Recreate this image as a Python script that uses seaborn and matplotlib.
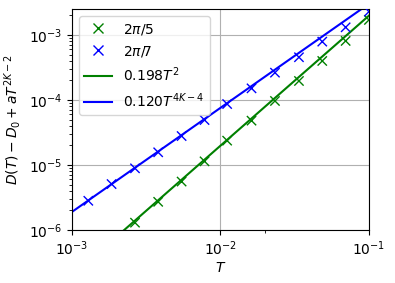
import numpy as np
import pandas as pd
import matplotlib
matplotlib.use("Agg")
import matplotlib.pyplot as plt
from matplotlib.ticker import FixedLocator, NullFormatter
import seaborn as sns

# --- data ---
T_VALUES = [0.00129, 0.00185, 0.00266, 0.00381, 0.00548, 0.00782, 0.0111,
            0.0162, 0.0233, 0.0338, 0.0485, 0.0697, 0.100]
D_2PI5 = [3.8e-7, 7.7e-7, 1.30e-6, 2.72e-6, 5.57e-6, 1.14e-5, 2.37e-5,
          4.81e-5, 9.66e-5, 1.96e-4, 3.98e-4, 8.09e-4, 1.70e-3]
D_2PI7 = [2.82e-6, 5.10e-6, 8.90e-6, 1.57e-5, 2.79e-5, 4.92e-5, 8.67e-5,
          1.51e-4, 2.63e-4, 4.54e-4, 7.89e-4, 1.31e-3, 2.28e-3]

# fit lines (straight in log-log, endpoints only)
FIT_T = [1e-3, 1e-1]
FIT_GREEN = [1.98e-7, 1.98e-3]   # 0.198 T^2
FIT_BLUE = [1.90e-6, 3.01e-3]    # 0.120 T^(4K-4)

OUTPUT_FILE = 'out.png'


def main():
    df_pts = pd.DataFrame({'T': T_VALUES * 2,
                           'D': D_2PI5 + D_2PI7,
                           'series': [r'$2\pi/5$'] * len(T_VALUES) + [r'$2\pi/7$'] * len(T_VALUES)})
    df_fit = pd.DataFrame({'T': FIT_T * 2,
                           'D': FIT_GREEN + FIT_BLUE,
                           'fit': [r'$0.198T^2$'] * 2 + [r'$0.120T^{4K-4}$'] * 2})

    fig, ax = plt.subplots(figsize=(3.95, 2.83), dpi=100)
    fig.subplots_adjust(left=0.182, right=0.934, top=0.968, bottom=0.187)

    # --- crosses ---
    sns.scatterplot(data=df_pts, x='T', y='D', hue='series',
                    palette=['green', 'blue'], marker='x', s=45,
                    linewidth=1.0, ax=ax, legend=True, zorder=3)

    # --- fit lines ---
    sns.lineplot(data=df_fit, x='T', y='D', hue='fit',
                 palette=['green', 'blue'], linewidth=1.5, ax=ax,
                 legend=True, zorder=2)

    ax.set_xscale('log')
    ax.set_yscale('log')
    ax.set_xlim(1e-3, 1e-1)
    ax.set_ylim(1e-6, 2.5e-3)

    # only one minor tick visible on the x axis of the original
    ax.xaxis.set_minor_locator(FixedLocator([0.02]))
    ax.xaxis.set_minor_formatter(NullFormatter())

    ax.grid(True, which='major', color='#b0b0b0', linewidth=0.8)
    ax.set_axisbelow(True)

    ax.set_xlabel(r'$T$', fontsize=10, labelpad=2)
    ax.set_ylabel(r'$D(T) - D_0 + aT^{2K-2}$', fontsize=10, labelpad=4)
    ax.tick_params(labelsize=10)

    handles, labels = ax.get_legend_handles_labels()
    ax.legend(handles=handles, labels=labels, loc='upper left', fontsize=10,
              framealpha=0.8)

    plt.savefig(OUTPUT_FILE, dpi=100)


if __name__ == '__main__':
    main()
